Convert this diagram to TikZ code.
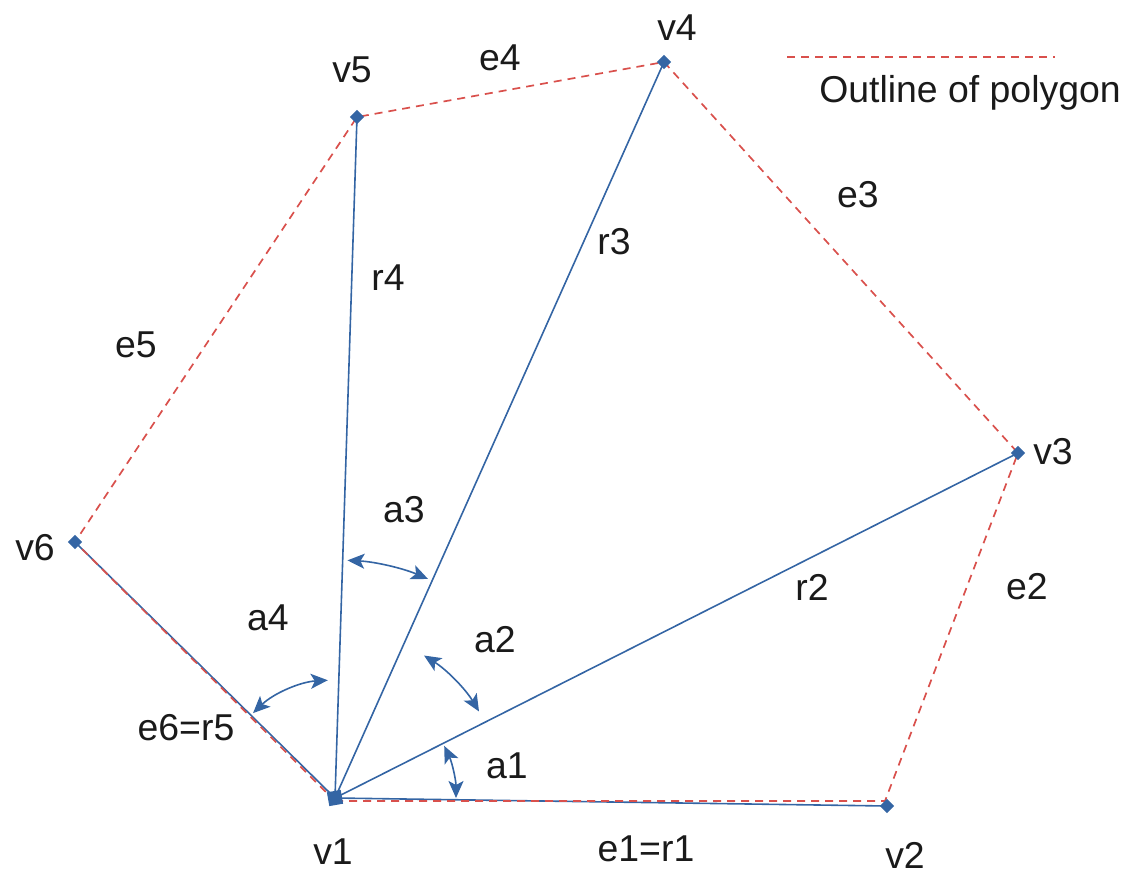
\documentclass[tikz,border=0pt]{standalone}
\usepackage{fontspec}
\setmainfont{Liberation Sans}
\usetikzlibrary{arrows.meta}
\definecolor{lblue}{HTML}{3465A4}
\definecolor{lred}{HTML}{D9504C}
\definecolor{txt}{HTML}{1A1A1A}
\begin{document}
\begin{tikzpicture}[x=0.5pt,y=0.5pt,
  ray/.style={draw=lblue,line width=0.8pt},
  outline/.style={draw=lred,line width=0.85pt,dash pattern=on 4pt off 3pt},
  arr/.style={draw=lblue,line width=0.8pt,{Stealth[length=8.5pt,width=7.5pt,inset=2pt]}-{Stealth[length=8.5pt,width=7.5pt,inset=2pt]}},
  vmark/.style={fill=lblue,draw=none,minimum size=5pt,inner sep=0pt,rotate=45,shape=rectangle},
  lbl/.style={text=txt,font=\fontsize{18.7}{22}\selectfont,inner sep=0pt}]
\useasboundingbox (0,0) rectangle (1132,-875);
% vertices
\coordinate (v1) at (335,-798);
\coordinate (v2) at (887,-806);
\coordinate (v3) at (1018,-453);
\coordinate (v4) at (664,-62);
\coordinate (v5) at (357,-117);
\coordinate (v6) at (75,-542);
\coordinate (v1r) at (335,-801);
\coordinate (v2r) at (885,-801);
% rays
\draw[ray] (v1) -- (v2);
\draw[ray] (v1) -- (v3);
\draw[ray] (v1) -- (v4);
\draw[ray] (v1) -- (v5);
\draw[ray] (v1) -- (v6);
% outline
\draw[outline] (v1r) -- (v2r) -- (v3) -- (v4) -- (v5) -- (v6) -- (v1r);
% markers
\node[vmark] (m2) at (v2) {};
\node[vmark] (m3) at (v3) {};
\node[vmark] (m4) at (v4) {};
\node[vmark] (m5) at (v5) {};
\node[vmark] (m6) at (v6) {};
\node[fill=lblue,draw=none,minimum size=7pt,inner sep=0pt,rotate=10] (m1) at (v1) {};
% angle arcs
\coordinate (a1s) at ([shift={(0:121)}]v1);
\coordinate (a2s) at ([shift={(31:168)}]v1);
\coordinate (a3s) at ([shift={(67:238)}]v1);
\coordinate (a4s) at ([shift={(93.5:118)}]v1);
\draw[arr] (a1s) arc[start angle=0,end angle=25.5,radius=121];
\draw[arr] (a2s) arc[start angle=31,end angle=58,radius=168];
\draw[arr] (a3s) arc[start angle=67,end angle=87,radius=238];
\draw[arr] (a4s) arc[start angle=93.5,end angle=134,radius=118];
% legend
\coordinate (lg1) at (787,-57);
\coordinate (lg2) at (1055,-57);
\draw[outline] (lg1) -- (lg2);
\node[lbl] (legend) at (970,-93) {Outline of polygon};
% labels
\node[lbl] (tv1) at (333,-852) {v1};
\node[lbl] (tv2) at (905,-855) {v2};
\node[lbl] (tv3) at (1053,-452) {v3};
\node[lbl] (tv4) at (677,-28) {v4};
\node[lbl] (tv5) at (352,-70) {v5};
\node[lbl] (tv6) at (35,-548) {v6};
\node[lbl] (te1) at (646,-849) {e1=r1};
\node[lbl] (te2) at (1027,-587) {e2};
\node[lbl] (te3) at (858,-195) {e3};
\node[lbl] (te4) at (500,-58) {e4};
\node[lbl] (te5) at (136,-345) {e5};
\node[lbl] (te6) at (186,-728) {e6=r5};
\node[lbl] (tr2) at (812,-587) {r2};
\node[lbl] (tr3) at (614,-242) {r3};
\node[lbl] (tr4) at (388,-278) {r4};
\node[lbl] (ta1) at (507,-766) {a1};
\node[lbl] (ta2) at (495,-640) {a2};
\node[lbl] (ta3) at (404,-510) {a3};
\node[lbl] (ta4) at (268,-618) {a4};
\end{tikzpicture}
\end{document}
